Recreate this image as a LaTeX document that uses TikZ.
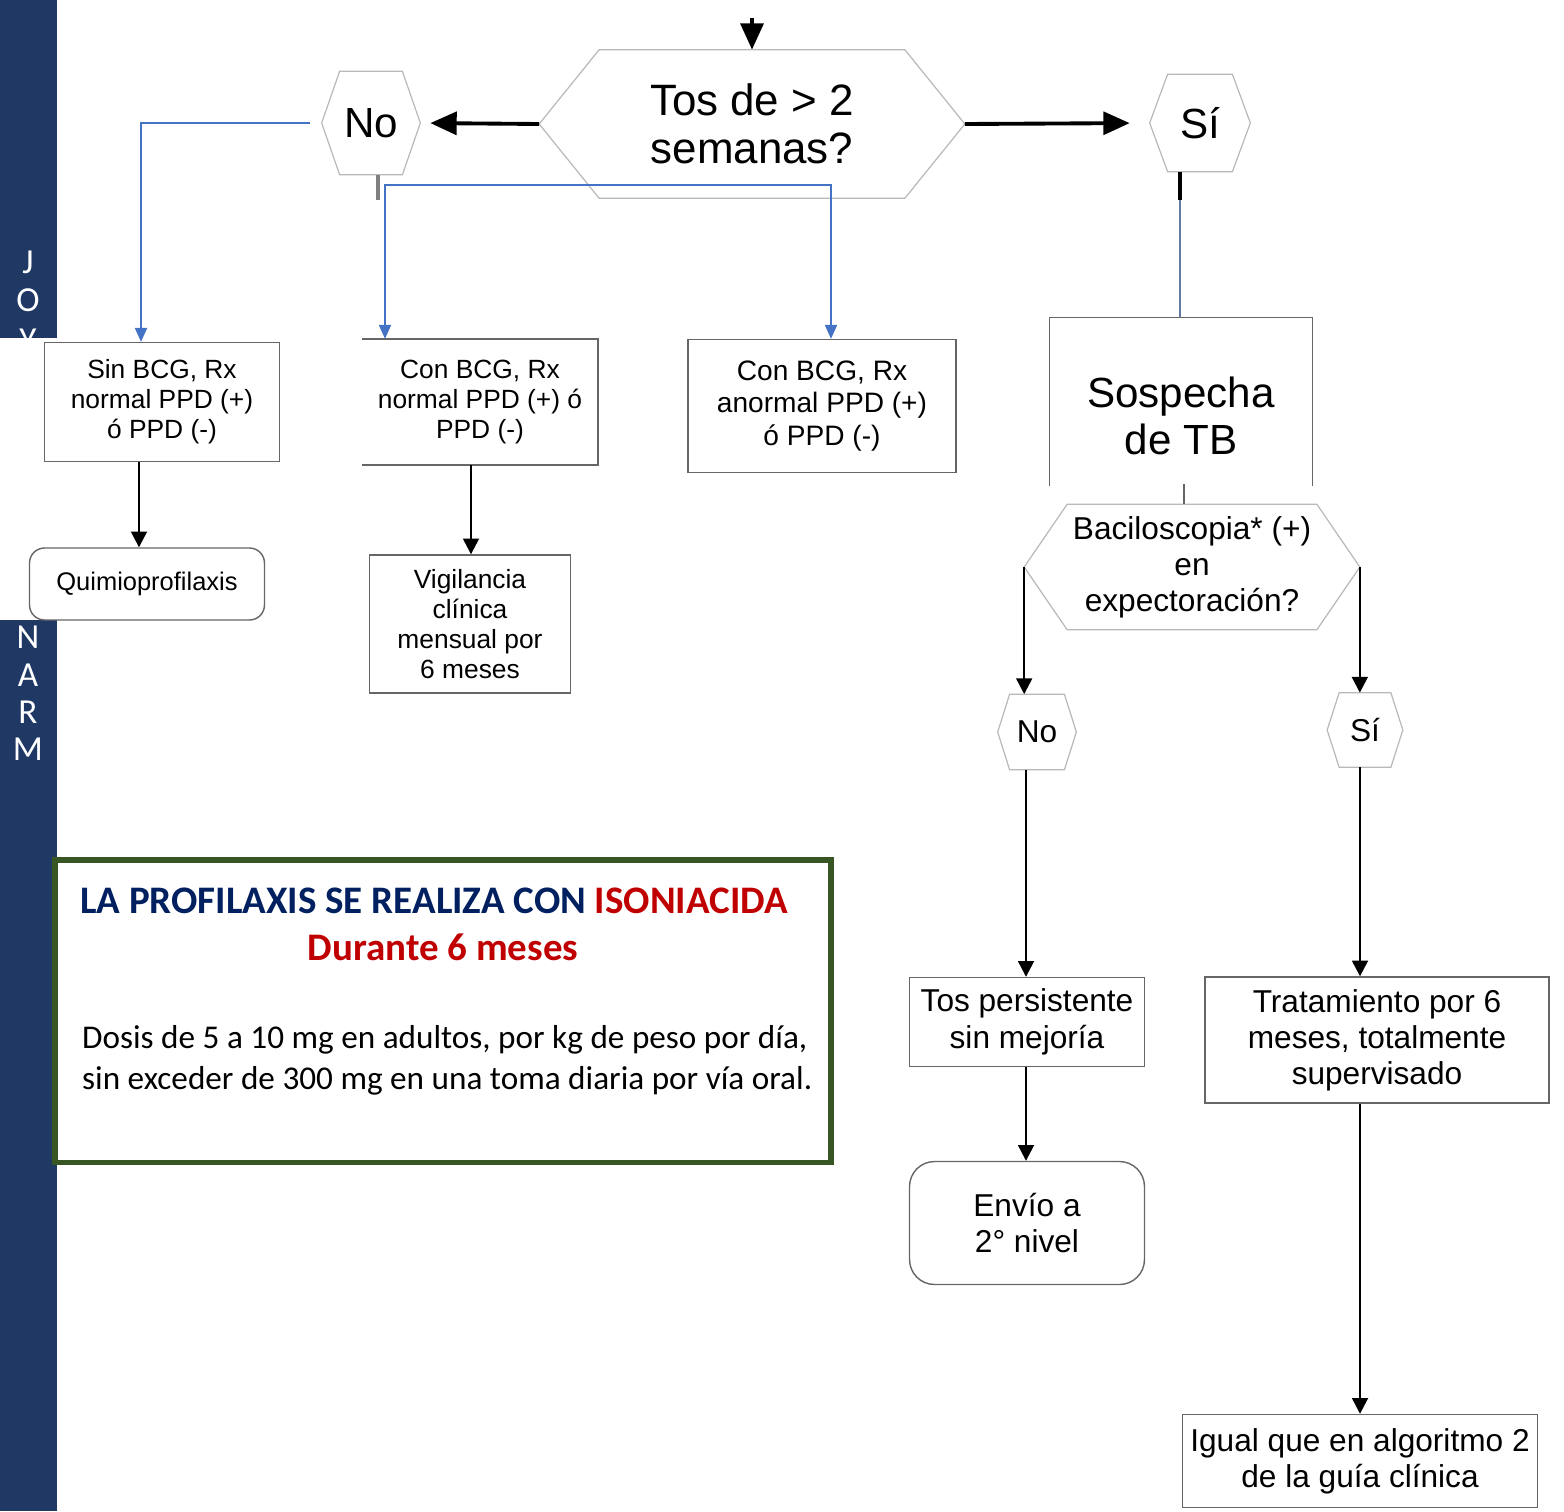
\documentclass[tikz,border=0pt]{standalone}
\usepackage{fontspec}
\setmainfont{Liberation Sans}
\newfontfamily\calibri{Carlito}
\usetikzlibrary{arrows.meta}
\definecolor{barra}{HTML}{1F3864}
\definecolor{azul}{HTML}{4472C4}
\definecolor{marino}{HTML}{002060}
\definecolor{rojo}{HTML}{C00000}
\definecolor{verde}{HTML}{375623}

% hexagon outline around a node: name, corner cut
\newcommand{\hexa}[2]{%
  \draw[gray!55, line width=0.7pt] (#1.west) -- ([xshift=#2]#1.north west) -- ([xshift=-#2]#1.north east)
    -- (#1.east) -- ([xshift=-#2]#1.south east) -- ([xshift=#2]#1.south west) -- cycle;}

\begin{document}
\begin{tikzpicture}[x=0.02cm,y=-0.02cm]
  \tikzset{ caja/.style={draw=gray!80!black,line width=0.8pt,inner sep=0pt,align=center,
      font=\fontsize{15}{17}\selectfont},
    hex/.style={inner sep=0pt,align=center},
    fl/.style={line width=1.4pt,-{Triangle[length=9pt,width=9pt]}},
    flg/.style={line width=2.2pt,-{Triangle[length=15pt,width=13pt]}},
    az/.style={azul,line width=0.8pt,-{Triangle[length=8pt,width=7pt]}},
    azz/.style={azul,line width=0.8pt,{Triangle[length=8pt,width=7pt]}-{Triangle[length=8pt,width=7pt]}},
    letra/.style={white,font=\calibri\fontsize{20}{20}\selectfont},
  }
  \useasboundingbox (0,0) rectangle (1564,1511);

  % side bar
  \fill[barra] (0,0) rectangle (57,1511);
  \foreach \l/\y in {J/262,O/300,Y/340,N/637,A/675,R/712,M/749}
    \node[letra] (l\l) at (28,\y) {\l};
  \fill[white] (0,338) rectangle (58,620);

  % top question
  \node[hex,minimum width=8.5cm,minimum height=2.96cm,font=\fontsize{25}{27}\selectfont] (tos) at (752,124) {Tos de > 2\\semanas?};
  \node[hex,minimum width=1.96cm,minimum height=2.06cm,font=\fontsize{24}{24}\selectfont] (no) at (371,123) {No};
  \node[hex,minimum width=2cm,minimum height=1.94cm,font=\fontsize{24}{24}\selectfont] (si) at (1200,123) {Sí};
  \hexa{tos}{1.2cm} \hexa{no}{0.36cm} \hexa{si}{0.36cm}

  \coordinate (entra) at (752,18);
  \draw[flg] (entra) -- (tos.north);
  \draw[flg,shorten >=0.2cm] (tos.west) -- (no.east);
  \draw[flg,shorten >=0.4cm] (tos.east) -- (si.west);

  % left branch
  \node[caja,minimum width=4.7cm,minimum height=2.38cm] (sin) at (162,402) {Sin BCG, Rx\\normal PPD (+)\\ó PPD (-)};
  \node[caja,draw=none,minimum width=4.7cm,minimum height=2.5cm] (con) at (480,402) {Con BCG, Rx\\normal PPD (+) ó\\PPD (-)};
  \draw[gray!80!black,line width=0.8pt] (con.north west) -- (con.north east) -- (con.south east) -- (con.south west);
  \node[caja,minimum width=5.36cm,minimum height=2.66cm,font=\fontsize{16}{18.7}\selectfont] (anor) at (822,406) {Con BCG, Rx\\anormal PPD (+)\\ó PPD (-)};

  \node[caja,rounded corners=0.3cm,minimum width=4.7cm,minimum height=1.44cm,font=\fontsize{14.5}{17}\selectfont] (quimio) at (147,584) {Quimioprofilaxis};
  \node[caja,minimum width=4.02cm,minimum height=2.76cm] (vigi) at (470,624) {Vigilancia\\clínica\\mensual por\\6 meses};

  \coordinate (kn) at (378,200);
  \draw[gray,line width=2pt] (no.south -| kn) -- (kn);
  \coordinate (ka) at (141,0);
  \draw[az,shorten <=0.24cm] (no.west) -| (sin.north -| ka);
  \coordinate (kb) at (385,185);
  \coordinate (kc) at (831,185);
  \draw[azz] (con.north -| kb) -- (kb) -- (kc) -- (anor.north -| kc);

  \coordinate (k1) at (139,0);
  \draw[fl] (sin.south -| k1) -- (quimio.north -| k1);
  \coordinate (k2) at (471,0);
  \draw[fl] (con.south -| k2) -- (vigi.north -| k2);

  % right branch
  \node[caja,draw=none,minimum width=5.24cm,minimum height=3.92cm,font=\fontsize{24}{27}\selectfont] (sosp) at (1181,416) {Sospecha\\de TB};
  \draw[gray!80!black,line width=0.8pt] ([yshift=0.58cm]sosp.south west) -- (sosp.north west) -- (sosp.north east) -- ([yshift=0.58cm]sosp.south east);
  \coordinate (ks) at (1180,200);
  \draw[line width=2.2pt] (si.south -| ks) -- (ks);
  \draw[gray!50!azul,line width=0.8pt] (ks) -- (sosp.north -| ks);

  \node[hex,minimum width=6.7cm,minimum height=2.5cm,font=\fontsize{18}{20.4}\selectfont] (baci) at (1192,567) {Baciloscopia* (+)\\en\\expectoración?};
  \hexa{baci}{0.86cm}
  \coordinate (kt) at (1184,0);
  \draw[gray!80!black,line width=0.8pt] (baci.north -| kt) -- ([yshift=0.4cm]baci.north -| kt);

  \node[hex,minimum width=1.56cm,minimum height=1.5cm,font=\fontsize{18}{18}\selectfont] (no2) at (1037,732) {No};
  \node[hex,minimum width=1.5cm,minimum height=1.48cm,font=\fontsize{18}{18}\selectfont] (si2) at (1365,730) {Sí};
  \hexa{no2}{0.24cm} \hexa{si2}{0.24cm}
  \draw[fl] (baci.west) -- (baci.west |- no2.north);
  \draw[fl] (baci.east) -- (baci.east |- si2.north);

  \node[caja,minimum width=4.7cm,minimum height=1.78cm,font=\fontsize{18}{21}\selectfont] (tosp) at (1027,1022) {Tos persistente\\sin mejoría};
  \node[caja,rounded corners=0.5cm,minimum width=4.7cm,minimum height=2.46cm,font=\fontsize{18}{20.4}\selectfont] (envio) at (1027,1223) {Envío a\\2° nivel};
  \node[caja,minimum width=6.88cm,minimum height=2.52cm,font=\fontsize{18}{20.4}\selectfont] (trat) at (1377,1040) {Tratamiento por 6\\meses, totalmente\\supervisado};
  \node[caja,minimum width=7.1cm,minimum height=1.86cm,font=\fontsize{18}{20.4}\selectfont] (igual) at (1360,1461) {Igual que en algoritmo 2\\de la guía clínica};

  \coordinate (k3) at (1026,0);
  \draw[fl] (no2.south -| k3) -- (tosp.north -| k3);
  \draw[fl] (tosp.south -| k3) -- (envio.north -| k3);
  \coordinate (k4) at (1360,0);
  \draw[fl] (si2.south -| k4) -- (trat.north -| k4);
  \draw[fl] (trat.south -| k4) -- (igual.north -| k4);

  % note box
  \node[draw=verde,line width=3.4pt,minimum width=15.54cm,minimum height=6.06cm] (prof) at (443,1011) {};
  \node[text=marino,font=\calibri\bfseries\fontsize{22.2}{26}\selectfont] (tit1) at (434,901) {LA PROFILAXIS SE REALIZA CON \textcolor{rojo}{ISONIACIDA}};
  \node[text=rojo,font=\calibri\bfseries\fontsize{22.2}{26}\selectfont] (tit2) at (443,947) {Durante 6 meses};
  \node[anchor=west,align=left,font=\calibri\fontsize{18.9}{23.2}\selectfont] (dosis) at (76,1060) {Dosis de 5 a 10 mg en adultos, por kg de peso por día,\\sin exceder de 300 mg en una toma diaria por vía oral.};
\end{tikzpicture}
\end{document}
